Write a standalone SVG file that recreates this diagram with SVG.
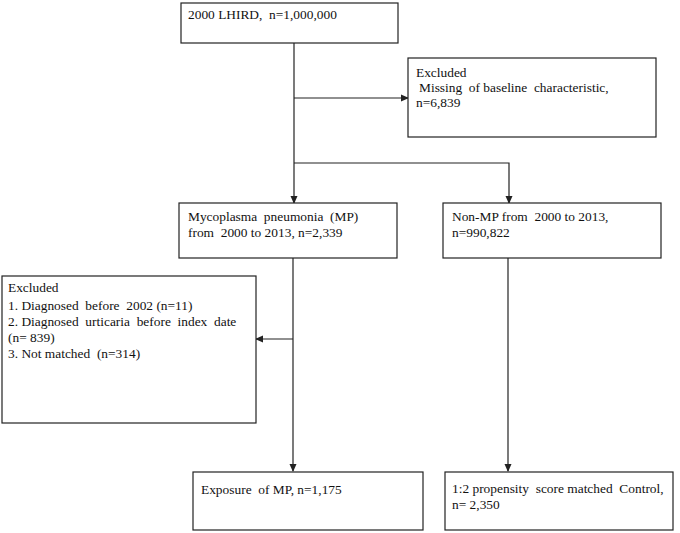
<svg xmlns="http://www.w3.org/2000/svg" width="680" height="533" viewBox="0 0 680 533">
<style>
.box{fill:#fff;stroke:#222;stroke-width:1.2}
.t{font-family:"Liberation Serif","Times New Roman",serif;font-size:13.4px;fill:#111}
.ln{fill:none;stroke:#222;stroke-width:1.2}
</style>
<defs>
<marker id="ah" markerWidth="8" markerHeight="8" refX="7" refY="4" orient="auto" markerUnits="userSpaceOnUse">
<path d="M0,0.5 L8,4 L0,7.5 Z" fill="#222"/>
</marker>
</defs>
<rect width="680" height="533" fill="#fff"/>
<g id="connectors">
<line class="ln" x1="294" y1="43" x2="294" y2="203" marker-end="url(#ah)"/>
<line class="ln" x1="294" y1="98" x2="408" y2="98" marker-end="url(#ah)"/>
<polyline class="ln" points="294,163 509,163 509,203" marker-end="url(#ah)"/>
<line class="ln" x1="293" y1="258" x2="293" y2="471" marker-end="url(#ah)"/>
<line class="ln" x1="293" y1="339" x2="256" y2="339" marker-end="url(#ah)"/>
<line class="ln" x1="508" y1="258" x2="508" y2="471" marker-end="url(#ah)"/>
</g>
<g id="n1">
<rect class="box" x="181" y="3" width="217" height="40"/>
<text class="t" x="188" y="18.5" xml:space="preserve">2000 LHIRD,  n=1,000,000</text>
</g>
<g id="n2">
<rect class="box" x="408" y="58" width="248" height="79"/>
<text class="t" x="416" y="76.5">Excluded</text>
<text class="t" x="419" y="91.5" xml:space="preserve">Missing  of baseline  characteristic,</text>
<text class="t" x="416" y="106.5">n=6,839</text>
</g>
<g id="n3">
<rect class="box" x="179" y="203" width="218" height="55"/>
<text class="t" x="188" y="220.5" xml:space="preserve">Mycoplasma  pneumonia  (MP)</text>
<text class="t" x="188" y="236.5" xml:space="preserve">from  2000 to 2013, n=2,339</text>
</g>
<g id="n4">
<rect class="box" x="443" y="203" width="218" height="55"/>
<text class="t" x="452" y="220.5" xml:space="preserve">Non-MP from  2000 to 2013,</text>
<text class="t" x="452" y="236.5">n=990,822</text>
</g>
<g id="n5">
<rect class="box" x="2" y="276" width="254" height="147"/>
<text class="t" x="8" y="292">Excluded</text>
<text class="t" x="8" y="309.5" xml:space="preserve">1. Diagnosed  before  2002 (n=11)</text>
<text class="t" x="8" y="325.5" xml:space="preserve">2. Diagnosed  urticaria  before  index  date</text>
<text class="t" x="8" y="341.5">(n= 839)</text>
<text class="t" x="8" y="357.5" xml:space="preserve">3. Not matched  (n=314)</text>
</g>
<g id="n6">
<rect class="box" x="193" y="472" width="230" height="58"/>
<text class="t" x="201" y="493.5" xml:space="preserve">Exposure  of MP, n=1,175</text>
</g>
<g id="n7">
<rect class="box" x="445" y="472" width="228" height="58"/>
<text class="t" x="452" y="493" xml:space="preserve">1:2 propensity  score matched  Control,</text>
<text class="t" x="452" y="509">n= 2,350</text>
</g>
</svg>
